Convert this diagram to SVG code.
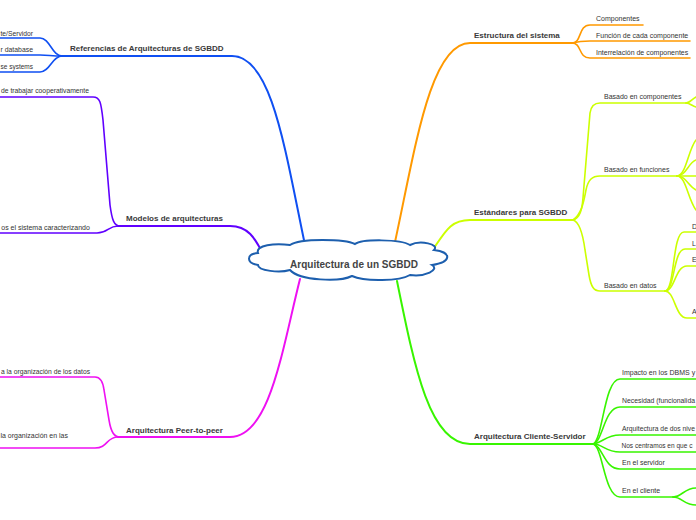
<svg xmlns="http://www.w3.org/2000/svg" width="696" height="520" viewBox="0 0 696 520">
<style>
text{font-family:"Liberation Sans",Arial,sans-serif;fill:#333}
.b{font-weight:bold;font-size:8px;fill:#3a3a3a}
.c{font-size:7px}
.e{text-anchor:end}
.main{fill:none;stroke-width:2;stroke-linecap:round}
.sub{fill:none;stroke-width:1.6;stroke-linecap:round}
.blue{stroke:#0f4ff2}.purple{stroke:#6000ff}.mag{stroke:#ee10f2}
.orange{stroke:#ff9900}.yg{stroke:#ccff00}.green{stroke:#38f500}
</style>
<rect width="696" height="520" fill="#fff"/>
<g id="connectors">
<path class="main blue" d="M305,245 C285,150 272,56 232,56 L62,56"/>
<path class="sub blue" d="M62,56 C52,56 50,38 40,38 L0,38"/>
<path class="sub blue" d="M62,56 C52,56 48,55 40,55 L0,55"/>
<path class="sub blue" d="M62,56 C52,56 50,72 40,72 L0,72"/>
<path class="main purple" d="M263,254 C255,238 248,226 230,226 L118,226"/>
<path class="sub purple" d="M0,97 L93,97 C100,97 101,102 103,120 L110,205 C112,220 114,226 120,226"/>
<path class="sub purple" d="M0,233 L97,233 C108,233 108,226 118,226"/>
<path class="main mag" d="M300,279 C282,350 270,437 230,437 L118,437"/>
<path class="sub mag" d="M0,377 L95,377 C101,377 103,382 104,390 L109,420 C111,432 114,437 120,437"/>
<path class="sub mag" d="M0,448 L95,448 C108,448 106,437 118,437"/>
<path class="main orange" d="M395,242 C415,150 430,43 470,43 L572,43"/>
<path class="sub orange" d="M572,43 C582,43 578,25 590,25 L643,25"/>
<path class="sub orange" d="M572,43 C580,41 585,41 590,41 L690,41"/>
<path class="sub orange" d="M572,43 C582,43 578,58 590,58 L690,58"/>
<path class="main yg" d="M432,251 C445,232 450,220 470,220 L574,220"/>
<path class="sub yg" d="M573,220 C580,218 582,210 583,198 L590,113 C591,106 594,103 600,103 L686,103"/>
<path class="sub yg" d="M686,103 C690,103 692,99 696,97"/>
<path class="sub yg" d="M686,103 C690,103 692,106 696,107"/>
<path class="sub yg" d="M573,220 C582,214 584,200 586,190 C588,180 592,176 600,176 L677,176"/>
<path class="sub yg" d="M677,176 C686,176 688,150 696,140"/>
<path class="sub yg" d="M677,176 C686,176 688,163 696,160"/>
<path class="sub yg" d="M677,176 L696,176"/>
<path class="sub yg" d="M677,176 C686,176 688,186 696,190"/>
<path class="sub yg" d="M677,176 C686,176 688,200 696,210"/>
<path class="sub yg" d="M573,220 C580,222 583,235 585,250 L589,275 C591,287 594,291 600,291 L665,291"/>
<path class="sub yg" d="M665,291 C675,291 672,232 684,232 L696,232"/>
<path class="sub yg" d="M665,291 C675,291 673,249 685,249 L696,249"/>
<path class="sub yg" d="M665,291 C675,291 675,266 687,266 L696,266"/>
<path class="sub yg" d="M665,291 C675,291 675,318 687,318 L696,318"/>
<path class="main green" d="M397,281 C415,370 430,444 470,444 L593,444"/>
<path class="sub green" d="M593,444 C603,440 604,379 620,379 L696,379"/>
<path class="sub green" d="M593,444 C603,442 604,407 620,407 L696,407"/>
<path class="sub green" d="M593,444 C603,443 605,435 620,435 L696,435"/>
<path class="sub green" d="M593,444 C603,444 605,452 620,452 L696,452"/>
<path class="sub green" d="M593,444 C603,446 604,469 620,469 L696,469"/>
<path class="sub green" d="M593,444 C603,446 604,497 620,497 L673,497"/>
<path class="sub green" d="M673,497 C682,497 684,488 696,488"/>
<path class="sub green" d="M673,497 C682,497 684,505 696,505"/>
</g>
<g id="center">
<path d="M258,253 C246,254 246,263 258,265 C258,271 280,273 290,270 C300,281 340,282 352,276 C365,282 400,281 410,275 C425,277 440,270 432,265 C452,262 452,252 434,250 C440,244 420,240 410,245 C400,239 362,239 355,244 C345,239 300,238 290,245 C275,243 255,245 258,253 Z" fill="#fff" stroke="#1d5fae" stroke-width="2"/>
<text x="354" y="267.5" text-anchor="middle" style="font-weight:bold;font-size:10px;fill:#444">Arquitectura de un SGBDD</text>
</g>
<g id="n-referencias"><text class="b" x="70" y="51">Referencias de Arquitecturas de SGBDD</text></g>
<g id="n-ref1"><text class="c" x="0.5" y="35.5" textLength="32.5" lengthAdjust="spacingAndGlyphs">te/Servidor</text></g>
<g id="n-ref2"><text class="c" x="0.5" y="52" textLength="32.5" lengthAdjust="spacingAndGlyphs">r database</text></g>
<g id="n-ref3"><text class="c" x="0.5" y="69" textLength="32.5" lengthAdjust="spacingAndGlyphs">se systems</text></g>
<g id="n-modelos"><text class="b" x="126" y="221">Modelos de arquitecturas</text></g>
<g id="n-mod1"><text class="c" x="1" y="93" textLength="88" lengthAdjust="spacingAndGlyphs">de trabajar cooperativamente</text></g>
<g id="n-mod2"><text class="c" x="1.3" y="229.5" textLength="88.5" lengthAdjust="spacingAndGlyphs">os el sistema caracterizando</text></g>
<g id="n-p2p"><text class="b" x="126" y="432.5">Arquitectura Peer-to-peer</text></g>
<g id="n-p2p1"><text class="c" x="1" y="373.5" textLength="89" lengthAdjust="spacingAndGlyphs">a la organización de los datos</text></g>
<g id="n-p2p2"><text class="c" x="0.5" y="437.5" textLength="67.5" lengthAdjust="spacingAndGlyphs">la organización en las</text></g>
<g id="n-estructura"><text class="b" x="474" y="38">Estructura del sistema</text></g>
<g id="n-est1"><text class="c" x="596" y="21">Componentes</text></g>
<g id="n-est2"><text class="c" x="596" y="37.5">Función de cada componente</text></g>
<g id="n-est3"><text class="c" x="596" y="54.5">Interrelación de componentes</text></g>
<g id="n-estandares"><text class="b" x="474" y="215">Estándares para SGBDD</text></g>
<g id="n-std1"><text class="c" x="604" y="98.5">Basado en componentes</text></g>
<g id="n-std2"><text class="c" x="604" y="172">Basado en funciones</text></g>
<g id="n-std3"><text class="c" x="604" y="287.5">Basado en datos</text></g>
<g id="n-d1"><text class="c" x="692" y="228.5">D</text></g>
<g id="n-d2"><text class="c" x="692" y="245.5">L</text></g>
<g id="n-d3"><text class="c" x="692" y="262">E</text></g>
<g id="n-d4"><text class="c" x="692" y="314">A</text></g>
<g id="n-cs"><text class="b" x="474" y="438.5">Arquitectura Cliente-Servidor</text></g>
<g id="n-cs1"><text class="c" x="622" y="374.5">Impacto en los DBMS y</text></g>
<g id="n-cs2"><text class="c" x="622" y="402.5" textLength="73" lengthAdjust="spacingAndGlyphs">Necesidad (funcionalida</text></g>
<g id="n-cs3"><text class="c" x="622" y="430.5" textLength="73" lengthAdjust="spacingAndGlyphs">Arquitectura de dos nive</text></g>
<g id="n-cs4"><text class="c" x="621.5" y="447.5" textLength="71" lengthAdjust="spacingAndGlyphs">Nos centramos en que c</text></g>
<g id="n-cs5"><text class="c" x="622" y="464.5">En el servidor</text></g>
<g id="n-cs6"><text class="c" x="622" y="492.5">En el cliente</text></g>
</svg>
